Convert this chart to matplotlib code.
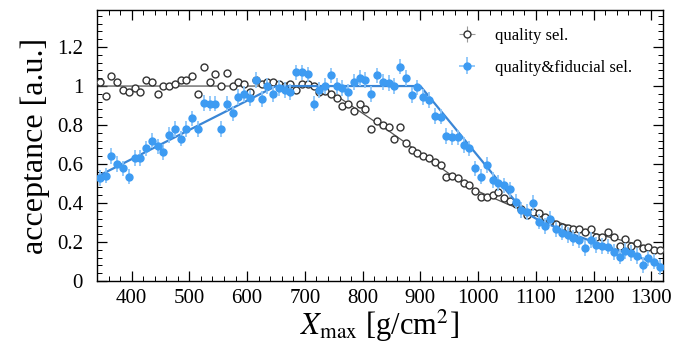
import numpy as np
import matplotlib
matplotlib.use("Agg")
from matplotlib import pyplot as plt
from matplotlib.ticker import MultipleLocator

plt.rcParams['font.family'] = ['Liberation Serif', 'DejaVu Serif']
plt.rcParams['mathtext.fontset'] = 'stix'

# bin centres, 10 g/cm2 bins
xmax = np.arange(345, 1320, 10)

# quality sel. (open black circles)
qual = [1.02, 0.95, 1.05, 1.02, 0.98, 0.97, 0.99, 0.97, 1.03, 1.02,
        0.96, 1.00, 1.00, 1.01, 1.03, 1.03, 1.05, 0.96, 1.10, 1.02,
        1.06, 1.00, 1.065, 1.00, 1.02, 1.01, 0.97, 1.03, 1.01, 1.02,
        1.02, 1.01, 1.00, 1.01, 0.98, 1.01, 1.01, 1.00, 0.97, 0.975,
        0.96, 0.94, 0.90, 0.91, 0.87, 0.91, 0.88, 0.78, 0.82, 0.80,
        0.79, 0.73, 0.79, 0.71, 0.67, 0.655, 0.64, 0.63, 0.61, 0.595,
        0.535, 0.54, 0.53, 0.50, 0.49, 0.46, 0.43, 0.43, 0.44, 0.455,
        0.425, 0.41, 0.395, 0.37, 0.34, 0.355, 0.35, 0.33, 0.31, 0.29,
        0.275, 0.27, 0.265, 0.265, 0.25, 0.265, 0.225, 0.225, 0.25, 0.225,
        0.18, 0.215, 0.18, 0.195, 0.17, 0.175, 0.16, 0.16]

# quality&fiducial sel. (filled blue)
fid = [0.527, 0.54, 0.64, 0.60, 0.578, 0.535, 0.63, 0.63, 0.68, 0.72,
       0.69, 0.663, 0.75, 0.78, 0.73, 0.78, 0.834, 0.78, 0.914, 0.91,
       0.91, 0.78, 0.91, 0.86, 0.945, 0.96, 0.94, 1.03, 0.935, 1.00,
       0.96, 0.99, 0.98, 0.97, 1.07, 1.07, 1.06, 0.91, 0.98, 1.00,
       1.055, 1.00, 0.99, 0.97, 1.02, 1.04, 1.03, 0.96, 1.055, 1.02,
       1.015, 1.00, 1.10, 1.04, 0.955, 0.993, 0.945, 0.928, 0.846, 0.843,
       0.744, 0.737, 0.737, 0.697, 0.68, 0.578, 0.535, 0.595, 0.518, 0.504,
       0.49, 0.47, 0.407, 0.364, 0.355, 0.40, 0.304, 0.282, 0.32, 0.265,
       0.248, 0.236, 0.219, 0.21, 0.168, 0.21, 0.185, 0.18, 0.176, 0.15,
       0.125, 0.155, 0.142, 0.128, 0.082, 0.116, 0.099, 0.073]

qual_err = 0.012
fid_err = 0.04

# fit curves
qual_fit_x = [340, 720, 760, 800, 850, 900, 950, 1000, 1050, 1100, 1150, 1200, 1260, 1320]
qual_fit_y = [1.0, 1.0, 0.94, 0.86, 0.76, 0.655, 0.55, 0.46, 0.395, 0.34, 0.29, 0.245, 0.2, 0.155]
fid_fit_x = [340, 650, 900, 1000, 1050, 1080, 1100, 1150, 1200, 1250, 1320]
fid_fit_y = [0.535, 1.0, 1.0, 0.64, 0.46, 0.355, 0.32, 0.255, 0.2, 0.15, 0.08]

blue = '#3d9bf2'

fig = plt.figure(figsize=(6.81, 3.46), dpi=100)
ax = fig.add_axes([0.1424, 0.188, 0.831, 0.783])

ax.plot(qual_fit_x, qual_fit_y, color='#555555', lw=0.9, zorder=2)
ax.plot(fid_fit_x, fid_fit_y, color='#3a86d6', lw=1.6, zorder=4)

h1 = ax.errorbar(xmax, qual, xerr=5, yerr=qual_err, fmt='o', ms=5, mfc='white',
                 mec='#333333', mew=1.0, ecolor='#999999', elinewidth=0.8, zorder=3)
h2 = ax.errorbar(xmax, fid, xerr=5, yerr=fid_err, fmt='o', ms=5, mfc=blue,
                 mec=blue, ecolor='#8cc6fa', elinewidth=1.3, zorder=5)

ax.set_xlim(340, 1320)
ax.set_ylim(0, 1.39)
ax.xaxis.set_major_locator(MultipleLocator(100))
ax.xaxis.set_minor_locator(MultipleLocator(20))
ax.yaxis.set_minor_locator(MultipleLocator(0.04))
ax.set_yticks([0, 0.2, 0.4, 0.6, 0.8, 1.0, 1.2])
ax.set_yticklabels(['0', '0.2', '0.4', '0.6', '0.8', '1', '1.2'])
ax.tick_params(which='both', direction='in', top=True, right=True, labelsize=15)
ax.tick_params(axis='y', which='major', pad=10)
ax.tick_params(axis='x', which='major', pad=6)
ax.tick_params(which='major', length=7, width=0.9)
ax.tick_params(which='minor', length=3.5, width=0.7)
for s in ax.spines.values():
    s.set_linewidth(1.0)

ax.set_xlabel(r'$X_{\rm max}$ [g/cm$^2$]', fontsize=22, labelpad=0)
ax.set_ylabel('acceptance [a.u.]', fontsize=23, labelpad=5)

ax.legend([h1, h2], ['quality sel.', 'quality&fiducial sel.'], loc='upper left',
          bbox_to_anchor=(0.595, 0.99), frameon=False, fontsize=12,
          handlelength=2.2, labelspacing=0.95, handletextpad=0.6)

fig.savefig('out.png', dpi=100)
